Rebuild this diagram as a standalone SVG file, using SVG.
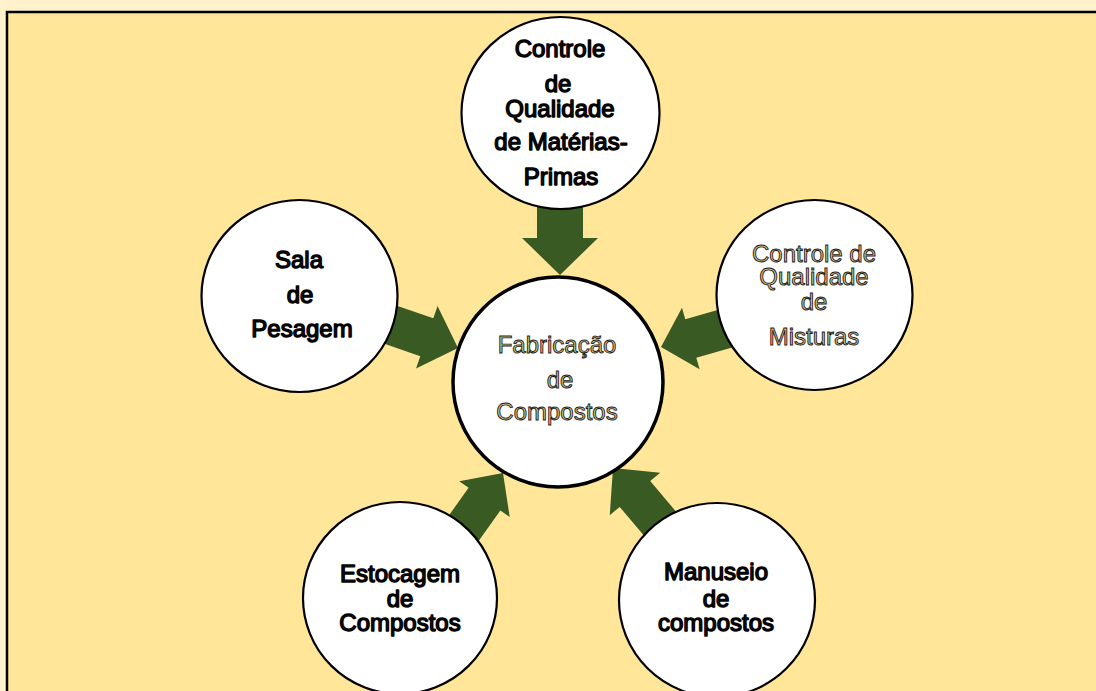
<svg xmlns="http://www.w3.org/2000/svg" width="1096" height="691" viewBox="0 0 1096 691">
<style>
.node{fill:#fff;stroke:#000;stroke-width:2.2}
.core{fill:#fff;stroke:#000;stroke-width:3.5}
.arrow{fill:#3A5A23;stroke:none}
.t{font-family:"Liberation Sans",Arial,sans-serif;font-size:24px;text-anchor:middle}
.dark{fill:#111;stroke:#000;stroke-width:1.4;stroke-linejoin:round}
.tan{fill:#D9C282;stroke:#1a1a1a;stroke-width:0.9}
</style>
<rect x="0" y="0" width="1096" height="691" fill="#FFF2CC"/>
<rect x="7" y="12" width="1100" height="690" fill="#FFE699" stroke="#000" stroke-width="2.5"/>
<g id="connectors">
<polygon class="arrow" transform="translate(560,275) rotate(90)" points="-85,-23 -37,-23 -37,-38 0,0 -37,38 -37,23 -85,23"/>
<polygon class="arrow" transform="translate(458,348) rotate(19)" points="-80,-20 -33,-20 -33,-33 0,0 -33,33 -33,20 -80,20"/>
<polygon class="arrow" transform="translate(661,347) rotate(164)" points="-80,-20 -31,-20 -31,-32 0,0 -31,32 -31,20 -80,20"/>
<polygon class="arrow" transform="translate(503,473) rotate(-54.6)" points="-80,-19.5 -32,-19.5 -32,-31 0,0 -32,31 -32,19.5 -80,19.5"/>
<polygon class="arrow" transform="translate(613,468) rotate(-130.2)" points="-80,-20 -34,-20 -34,-33 0,0 -34,33 -34,20 -80,20"/>
</g>
<g id="node-top">
<ellipse class="node" cx="560.5" cy="113" rx="99" ry="96"/>
<text class="t dark" x="560" y="57">Controle</text>
<text class="t dark" x="558" y="92">de</text>
<text class="t dark" x="560" y="117">Qualidade</text>
<text class="t dark" x="561" y="150">de Matérias-</text>
<text class="t dark" x="561" y="185">Primas</text>
</g>
<g id="node-center">
<circle class="core" cx="558" cy="382" r="105"/>
<text class="t tan" x="557" y="353">Fabricação</text>
<text class="t tan" x="560" y="388">de</text>
<text class="t tan" x="557" y="420">Compostos</text>
</g>
<g id="node-right">
<ellipse class="node" cx="814.5" cy="295" rx="98" ry="95"/>
<text class="t tan" x="814" y="262">Controle de</text>
<text class="t tan" x="814" y="285">Qualidade</text>
<text class="t tan" x="814" y="310">de</text>
<text class="t tan" x="814" y="345">Misturas</text>
</g>
<g id="node-left">
<ellipse class="node" cx="299.5" cy="296" rx="98" ry="96"/>
<text class="t dark" x="299" y="268">Sala</text>
<text class="t dark" x="300" y="303">de</text>
<text class="t dark" x="302" y="337">Pesagem</text>
</g>
<g id="node-bottom-left">
<ellipse class="node" cx="400" cy="598" rx="97" ry="96"/>
<text class="t dark" x="400" y="582">Estocagem</text>
<text class="t dark" x="400" y="607">de</text>
<text class="t dark" x="400" y="631">Compostos</text>
</g>
<g id="node-bottom-right">
<ellipse class="node" cx="717" cy="600" rx="98" ry="97"/>
<text class="t dark" x="716" y="580">Manuseio</text>
<text class="t dark" x="716" y="607">de</text>
<text class="t dark" x="716" y="631">compostos</text>
</g>
</svg>
